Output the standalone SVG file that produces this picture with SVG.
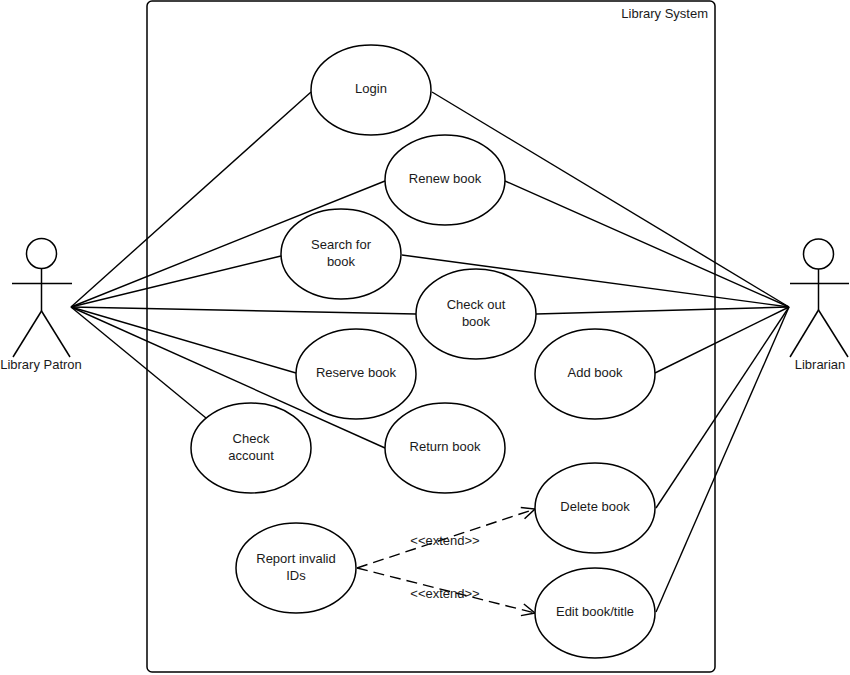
<svg xmlns="http://www.w3.org/2000/svg" width="850" height="675" viewBox="0 0 850 675">
<defs>
<style>
.uc{fill:#fff;stroke:#000;stroke-width:1.5}
.t{font-family:"Liberation Sans",Arial,sans-serif;font-size:13px;fill:#1a1a1a;text-anchor:middle}
.ln{stroke:#000;stroke-width:1.4;fill:none}
.dash{stroke:#000;stroke-width:1.4;fill:none;stroke-dasharray:11 6}
.act{stroke:#000;stroke-width:1.5;fill:none}
</style>
<marker id="open" markerUnits="userSpaceOnUse" markerWidth="16" markerHeight="16" refX="14" refY="7" orient="auto">
<path d="M1,1 L14,7 L1,13" fill="none" stroke="#000" stroke-width="1.5"/>
</marker>
</defs>
<rect width="850" height="675" fill="#fff"/>
<g id="system">
<rect x="147" y="1" width="568" height="671" rx="5" fill="none" stroke="#000" stroke-width="1.5"/>
<text x="708" y="18" class="t" style="text-anchor:end">Library System</text>
</g>
<g id="connectors">
<line class="ln" x1="71" y1="307" x2="311" y2="92"/>
<line class="ln" x1="71" y1="307" x2="385" y2="181"/>
<line class="ln" x1="71" y1="307" x2="281" y2="256"/>
<line class="ln" x1="71" y1="307" x2="416" y2="314"/>
<line class="ln" x1="71" y1="307" x2="296" y2="373"/>
<line class="ln" x1="71" y1="307" x2="385" y2="448"/>
<line class="ln" x1="71" y1="307" x2="206" y2="418"/>
<line class="ln" x1="789" y1="307" x2="432" y2="92"/>
<line class="ln" x1="789" y1="307" x2="505" y2="181"/>
<line class="ln" x1="789" y1="307" x2="402" y2="255"/>
<line class="ln" x1="789" y1="307" x2="536" y2="314"/>
<line class="ln" x1="789" y1="307" x2="655" y2="373"/>
<line class="ln" x1="789" y1="307" x2="656" y2="508"/>
<line class="ln" x1="789" y1="307" x2="656" y2="612"/>
<line class="dash" x1="357" y1="568" x2="535" y2="509" marker-end="url(#open)"/>
<line class="dash" x1="357" y1="568" x2="535" y2="613" marker-end="url(#open)"/>
<text x="445" y="545" class="t">&lt;&lt;extend&gt;&gt;</text>
<text x="445" y="598" class="t">&lt;&lt;extend&gt;&gt;</text>
</g>
<g id="patron">
<circle class="act" cx="41.5" cy="253.5" r="15"/>
<line class="act" x1="12" y1="283.5" x2="72" y2="283.5"/>
<line class="act" x1="41.5" y1="268.5" x2="41.5" y2="311"/>
<line class="act" x1="41.5" y1="311" x2="13" y2="357"/>
<line class="act" x1="41.5" y1="311" x2="70" y2="357"/>
<text x="41" y="369" class="t">Library Patron</text>
</g>
<g id="librarian">
<circle class="act" cx="818.5" cy="254" r="15"/>
<line class="act" x1="790" y1="283.5" x2="849" y2="283.5"/>
<line class="act" x1="818.5" y1="269" x2="818.5" y2="310"/>
<line class="act" x1="818.5" y1="310" x2="790" y2="357"/>
<line class="act" x1="818.5" y1="310" x2="848" y2="357"/>
<text x="820" y="369" class="t">Librarian</text>
</g>
<g id="login"><ellipse class="uc" cx="371" cy="90" rx="60" ry="45"/><text x="371" y="93" class="t">Login</text></g>
<g id="renew"><ellipse class="uc" cx="445" cy="180" rx="60" ry="45"/><text x="445" y="183" class="t">Renew book</text></g>
<g id="search"><ellipse class="uc" cx="341" cy="254" rx="60" ry="45"/><text x="341" y="249" class="t">Search for</text><text x="341" y="266" class="t">book</text></g>
<g id="checkout"><ellipse class="uc" cx="476" cy="314" rx="60" ry="45"/><text x="476" y="309" class="t">Check out</text><text x="476" y="326" class="t">book</text></g>
<g id="add"><ellipse class="uc" cx="595" cy="374" rx="60" ry="45"/><text x="595" y="377" class="t">Add book</text></g>
<g id="reserve"><ellipse class="uc" cx="356" cy="374" rx="60" ry="45"/><text x="356" y="377" class="t">Reserve book</text></g>
<g id="account"><ellipse class="uc" cx="251" cy="448" rx="60" ry="45"/><text x="251" y="443" class="t">Check</text><text x="251" y="460" class="t">account</text></g>
<g id="return"><ellipse class="uc" cx="445" cy="448" rx="60" ry="45"/><text x="445" y="451" class="t">Return book</text></g>
<g id="delete"><ellipse class="uc" cx="595" cy="508" rx="60" ry="45"/><text x="595" y="511" class="t">Delete book</text></g>
<g id="report"><ellipse class="uc" cx="296" cy="568" rx="60" ry="45"/><text x="296" y="563" class="t">Report invalid</text><text x="296" y="580" class="t">IDs</text></g>
<g id="edit"><ellipse class="uc" cx="595" cy="613" rx="60" ry="45"/><text x="595" y="616" class="t">Edit book/title</text></g>
</svg>
